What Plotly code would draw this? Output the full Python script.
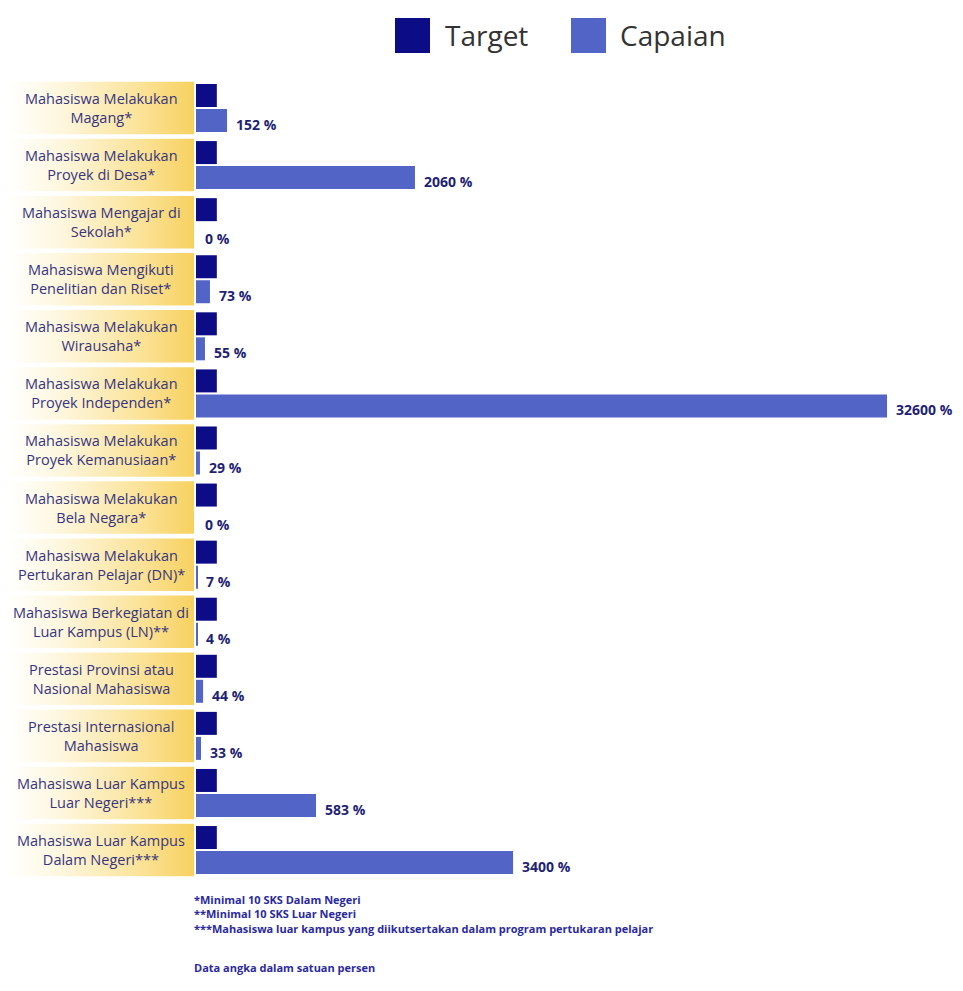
import plotly.graph_objects as go

# ---------------- data ----------------
kategori = [
    "Mahasiswa Melakukan<br>Magang*",
    "Mahasiswa Melakukan<br>Proyek di Desa*",
    "Mahasiswa Mengajar di<br>Sekolah*",
    "Mahasiswa Mengikuti<br>Penelitian dan Riset*",
    "Mahasiswa Melakukan<br>Wirausaha*",
    "Mahasiswa Melakukan<br>Proyek Independen*",
    "Mahasiswa Melakukan<br>Proyek Kemanusiaan*",
    "Mahasiswa Melakukan<br>Bela Negara*",
    "Mahasiswa Melakukan<br>Pertukaran Pelajar (DN)*",
    "Mahasiswa Berkegiatan di<br>Luar Kampus (LN)**",
    "Prestasi Provinsi atau<br>Nasional Mahasiswa",
    "Prestasi Internasional<br>Mahasiswa",
    "Mahasiswa Luar Kampus<br>Luar Negeri***",
    "Mahasiswa Luar Kampus<br>Dalam Negeri***",
]
target_persen = [100, 100, 100, 100, 100, 100, 100, 100, 100, 100, 100, 100, 100, 100]
capaian_persen = [152, 2060, 0, 73, 55, 32600, 29, 0, 7, 4, 44, 33, 583, 3400]
# bar lengths as drawn in the infographic (target bar = 100 units; large values are compressed)
panjang_batang = [149, 1051, 0, 67, 43, 3317, 19, 0, 5, 5, 34, 24, 576, 1522]

catatan = [
    "*Minimal 10 SKS Dalam Negeri",
    "**Minimal 10 SKS Luar Negeri",
    "***Mahasiswa luar kampus yang diikutsertakan dalam program pertukaran pelajar",
]
keterangan = "Data angka dalam satuan persen"

# ---------------- styling ----------------
OFF = 8                      # page body margin
W, H = 963 - OFF, 991 - OFF  # figure size
C_TARGET = "#0c0c86"
C_CAPAIAN = "#5264c6"
C_TEXT = "#35357f"
C_VAL = "#1f1f74"
FONT = "Open Sans"

def px(p):   # page x pixel -> paper
    return (p - OFF) / W

def py(p):   # page y pixel -> paper
    return 1 - (p - OFF) / H

n = len(kategori)
pos = list(range(n))

# x scale: 4.8 units per pixel, bar base at page px 196
u = 4.8
base = 196 - OFF
x0 = -base * u
x1 = (W - base) * u
# y scale: 57.08 px per row, row 0 center at page px 108
pitch = 57.08
ymin = -(108 - OFF) / pitch
ymax = ymin + H / pitch

fig = go.Figure()

# yellow gradient label boxes
bx, by = [], []
for i in pos:
    bx += [x0, -2 * u, -2 * u, x0, x0, None]
    by += [i - 0.46, i - 0.46, i + 0.46, i + 0.46, i - 0.46, None]
fig.add_trace(go.Scatter(
    x=bx, y=by, mode="none", fill="toself",
    fillgradient=dict(type="horizontal",
                      colorscale=[[0, "#ffffff"], [0.3, "#fef6dc"], [0.7, "#fbe39a"], [1, "#f7d160"]]),
    hoverinfo="skip", showlegend=False,
))

fig.add_trace(go.Bar(
    y=pos, x=target_persen, orientation="h", name="Target",
    marker=dict(color=C_TARGET, line=dict(width=0)), showlegend=False,
))
fig.add_trace(go.Bar(
    y=pos, x=panjang_batang, orientation="h", name="Capaian",
    marker=dict(color=C_CAPAIAN, line=dict(width=0)), showlegend=False,
))

annotations = []
for i, (lab, v, L) in enumerate(zip(kategori, capaian_persen, panjang_batang)):
    annotations.append(dict(
        x=(x0 + (-2 * u)) / 2, y=i, xref="x", yref="y", text=lab, showarrow=False,
        font=dict(family=FONT, size=14.5, color=C_TEXT), align="center",
        xanchor="center", yanchor="middle",
    ))
    annotations.append(dict(
        x=L, y=i + 0.22, xref="x", yref="y", text=f"<b>{v} %</b>", showarrow=False,
        font=dict(family=FONT, size=14, color=C_VAL),
        xanchor="left", yanchor="middle", xshift=7, yshift=-4,
    ))

# legend (drawn manually for large keys)
shapes = [
    dict(type="rect", xref="paper", yref="paper",
         x0=px(395), x1=px(430), y0=py(53), y1=py(18),
         fillcolor=C_TARGET, line=dict(width=0)),
    dict(type="rect", xref="paper", yref="paper",
         x0=px(571), x1=px(606), y0=py(53), y1=py(18),
         fillcolor=C_CAPAIAN, line=dict(width=0)),
]
annotations.append(dict(x=px(443), y=py(35), xref="paper", yref="paper", text="Target",
                        showarrow=False, xanchor="left", yanchor="middle",
                        font=dict(family=FONT, size=28, color="#333333")))
annotations.append(dict(x=px(618), y=py(35), xref="paper", yref="paper", text="Capaian",
                        showarrow=False, xanchor="left", yanchor="middle",
                        font=dict(family=FONT, size=28, color="#333333")))

# footnotes
annotations.append(dict(x=px(192), y=py(890), xref="paper", yref="paper",
                        text="<br>".join(f"<b>{c}</b>" for c in catatan),
                        showarrow=False, xanchor="left", yanchor="top", align="left",
                        font=dict(family=FONT, size=11, color="#2a2a9c")))
annotations.append(dict(x=px(192), y=py(967), xref="paper", yref="paper",
                        text=f"<b>{keterangan}</b>",
                        showarrow=False, xanchor="left", yanchor="middle", align="left",
                        font=dict(family=FONT, size=11, color="#2a2a9c")))

fig.update_layout(
    width=W, height=H,
    margin=dict(l=0, r=0, t=0, b=0),
    paper_bgcolor="white", plot_bgcolor="white",
    barmode="group", bargap=0.124, bargroupgap=0.08,
    xaxis=dict(range=[x0, x1], visible=False, fixedrange=True),
    yaxis=dict(range=[ymax, ymin], visible=False, fixedrange=True),
    shapes=shapes, annotations=annotations,
    showlegend=False,
)

fig.write_html("out.html")
